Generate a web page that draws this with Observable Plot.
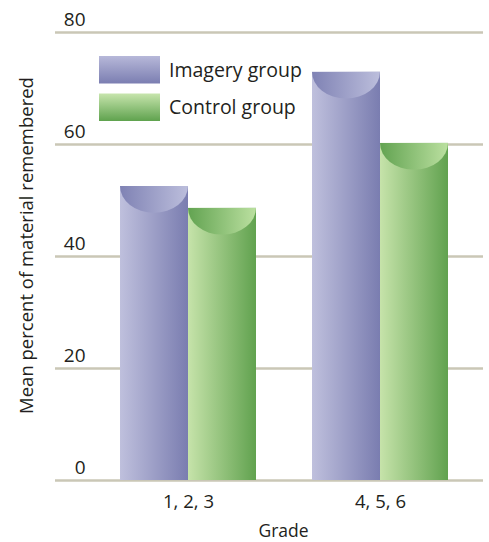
<!DOCTYPE html>
<html>
<head>
<meta charset="utf-8">
<script src="https://cdn.jsdelivr.net/npm/d3@7"></script>
<script src="https://cdn.jsdelivr.net/npm/@observablehq/plot@0.6"></script>
<style>
  body { margin: 0; background: #fff; }
  #chart svg { display: block; }
</style>
</head>
<body>
<div id="chart"></div>
<script>
const grades = ["1, 2, 3", "4, 5, 6"];
const groups = ["Imagery group", "Control group"];
const imageryValues = [52.5, 72.9];
const controlValues = [48.6, 60.2];
const yTicks = [0, 20, 40, 60, 80];

const imageryData = grades.map((g, i) => ({grade: g, value: imageryValues[i]}));
const controlData = grades.map((g, i) => ({grade: g, value: controlValues[i]}));

const FONT = "'Open Sans', 'Noto Sans', sans-serif";
const capDepth = 4.8; // in data units

const plot = Plot.plot({
  width: 489,
  height: 542,
  marginLeft: 55,
  marginRight: 6,
  marginTop: 32,
  marginBottom: 62,
  style: {fontFamily: FONT, fontSize: "18px", color: "#231f20", background: "#fff"},
  x: {domain: grades, paddingInner: 0.2917, paddingOuter: 0.2604, align: 0.65, label: null},
  y: {domain: [0, 80], label: null},
  marks: [
    Plot.gridY(yTicks, {stroke: "#cac7b6", strokeOpacity: 1, strokeWidth: 2.5}),
    Plot.barY(imageryData, {x: "grade", y: "value", insetRight: 68, fill: "url(#gImg)"}),
    Plot.barY(controlData, {x: "grade", y: "value", insetLeft: 68, fill: "url(#gCtl)"}),
    Plot.barY(imageryData, {x: "grade", y1: d => d.value - capDepth, y2: "value", insetRight: 68, fill: "url(#gImgCap)"}),
    Plot.barY(controlData, {x: "grade", y1: d => d.value - capDepth, y2: "value", insetLeft: 68, fill: "url(#gCtlCap)"}),
    Plot.axisY(yTicks, {anchor: "left", tickSize: 0, tickPadding: 0, dx: 30, dy: -13, textAnchor: "end", fontSize: 19, label: null}),
    Plot.axisX({anchor: "bottom", tickSize: 0, tickPadding: 14, fontSize: 18.5, label: null}),
    Plot.text(["Grade"], {frameAnchor: "bottom", lineAnchor: "middle", dx: 14, dy: 51, fontSize: 17.5, fill: "#231f20"}),
    Plot.text(["Mean percent of material remembered"], {frameAnchor: "left", textAnchor: "middle", lineAnchor: "middle", rotate: -90, dx: -28, dy: -11, fontSize: 18.5, fill: "#231f20"})
  ]
});

const svg = d3.select(plot);
const defs = svg.insert("defs", ":first-child");
function hgrad(id, c1, c2, vertical) {
  const g = defs.append("linearGradient").attr("id", id)
    .attr("x1", 0).attr("y1", 0).attr("x2", vertical ? 0 : 1).attr("y2", vertical ? 1 : 0);
  g.append("stop").attr("offset", "0%").attr("stop-color", c1);
  g.append("stop").attr("offset", "100%").attr("stop-color", c2);
}
hgrad("gImg", "#bfc0dd", "#7a7db0");
hgrad("gCtl", "#c6e3aa", "#61a24f");
hgrad("gImgCap", "#7f82b4", "#bcbedc");
hgrad("gCtlCap", "#62a351", "#bbe0a0");
hgrad("lImg", "#b7b8d9", "#7b7eb1", true);
hgrad("lCtl", "#c7e5ad", "#5fa24e", true);
defs.append("clipPath").attr("id", "capClip").attr("clipPathUnits", "objectBoundingBox")
  .append("path").attr("d", "M0,0 A0.5,1 0 0 0 1,0 Z");

// apply half-ellipse clip to cap bars
svg.selectAll("g[aria-label='bar']").filter((d, i) => i >= 2)
  .selectAll("rect").attr("clip-path", "url(#capClip)");

// legend
const legend = svg.append("g").attr("font-family", FONT).attr("font-size", 19.5)
  .attr("fill", "#231f20").attr("text-anchor", "start");
const items = [{label: groups[0], fill: "url(#lImg)"}, {label: groups[1], fill: "url(#lCtl)"}];
items.forEach((it, i) => {
  const y = 56 + i * 37.5;
  legend.append("rect").attr("x", 99).attr("y", y).attr("width", 61).attr("height", 27.5).attr("fill", it.fill);
  legend.append("text").attr("x", 169).attr("y", y + 14).attr("dy", "0.35em").text(it.label);
});

document.getElementById("chart").appendChild(plot);
</script>
</body>
</html>
